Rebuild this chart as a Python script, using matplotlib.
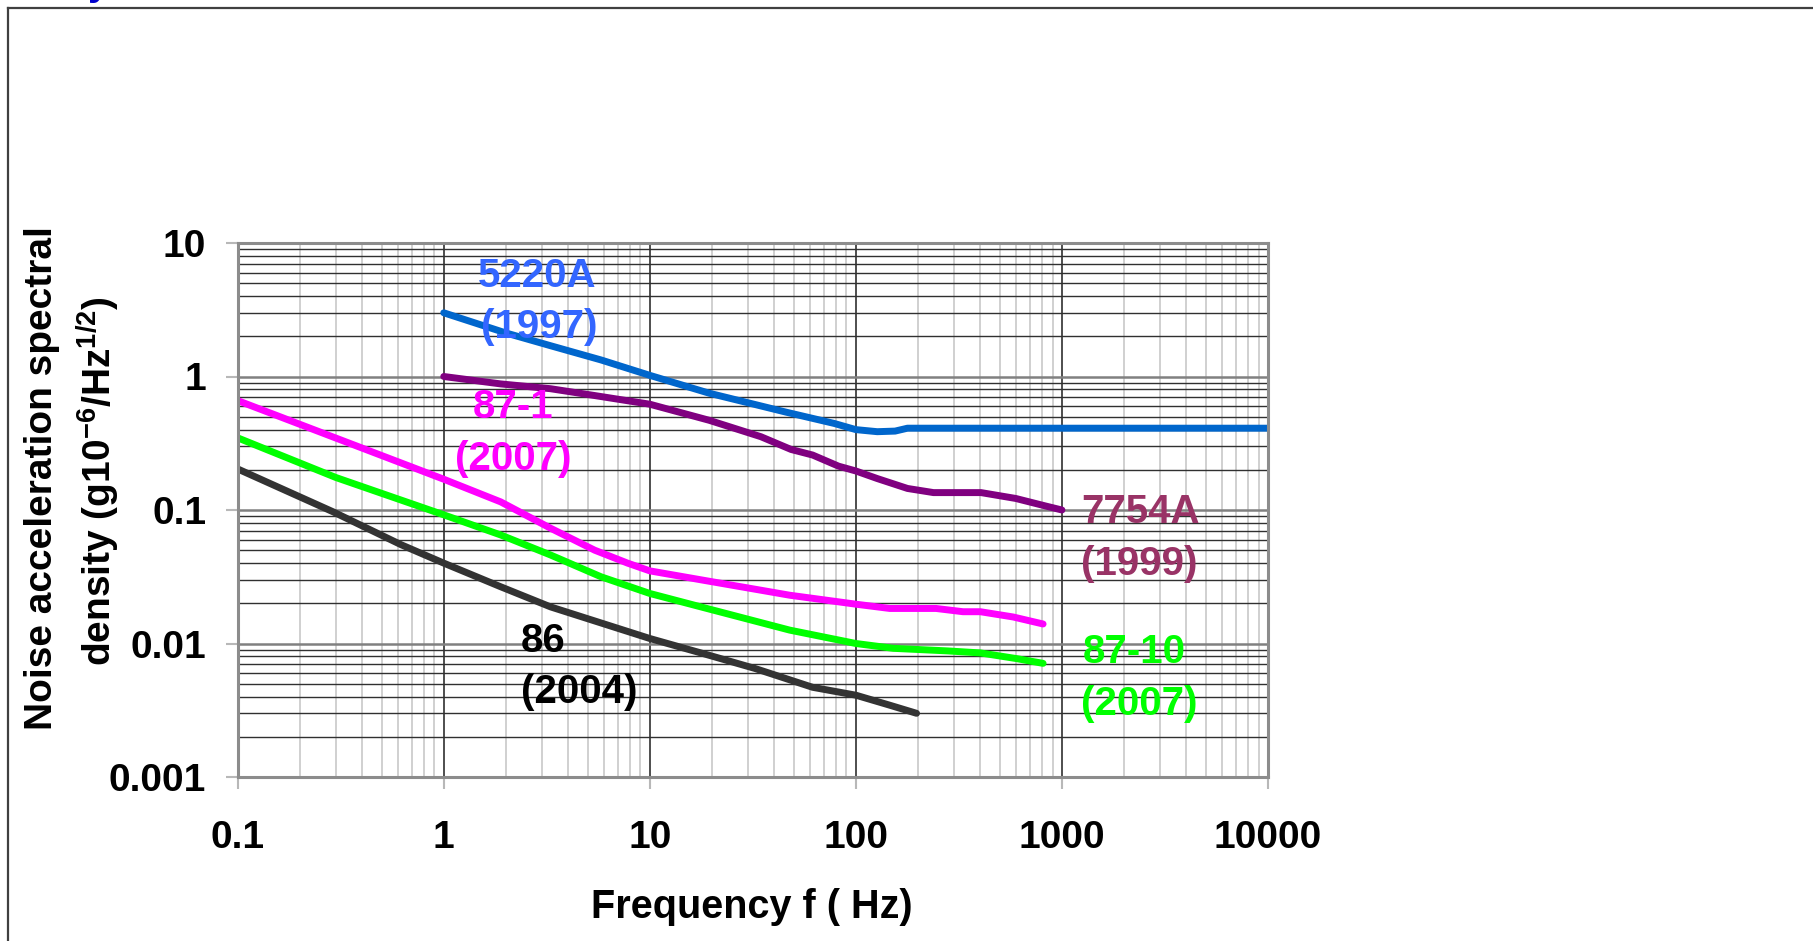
import numpy as np
import matplotlib
matplotlib.use('Agg')
import matplotlib.pyplot as plt
from matplotlib.ticker import LogLocator, NullFormatter
from matplotlib.lines import Line2D

plt.rcParams['font.family'] = ['Liberation Sans', 'DejaVu Sans']
plt.rcParams['font.weight'] = 'bold'
plt.rcParams['mathtext.default'] = 'regular'

# curves (frequency in Hz, noise density)
f_5220a = [1, 2, 3.3, 5.8, 10, 19.4, 46, 78.5, 100, 127, 155, 178, 1000, 10000]
n_5220a = [3.0, 2.12, 1.7, 1.33, 1.02, 0.75, 0.54, 0.445, 0.40, 0.386, 0.39, 0.41, 0.41, 0.41]

f_7754a = [1, 1.89, 3.3, 5.4, 10, 19.4, 34.6, 48.5, 61.7, 82.4, 100, 127, 178, 238, 405, 597, 836, 1000]
n_7754a = [1.0, 0.88, 0.81, 0.72, 0.62, 0.47, 0.354, 0.284, 0.258, 0.213, 0.196, 0.172,
           0.145, 0.135, 0.135, 0.122, 0.107, 0.10]

f_87_1 = [0.1, 1, 1.89, 3.3, 5.4, 7.8, 10, 17.7, 47.7, 100, 146, 245, 331, 402, 580, 810]
n_87_1 = [0.66, 0.17, 0.115, 0.073, 0.05, 0.04, 0.035, 0.030, 0.023, 0.0197, 0.0183, 0.0183,
          0.0173, 0.0173, 0.0158, 0.014]

f_87_10 = [0.1, 0.3, 1, 1.89, 3.3, 5.8, 10, 17.7, 47.7, 100, 152, 279, 402, 604, 810]
n_87_10 = [0.347, 0.175, 0.092, 0.065, 0.046, 0.0316, 0.0237, 0.0188, 0.0126, 0.010, 0.0092,
           0.0088, 0.0085, 0.0077, 0.0071]

f_86 = [0.1, 0.29, 0.62, 1, 1.89, 3.3, 10, 17.7, 32.4, 61.6, 100, 146, 197]
n_86 = [0.203, 0.097, 0.055, 0.040, 0.0266, 0.0188, 0.0109, 0.0085, 0.0065, 0.0047, 0.0041,
        0.00345, 0.0030]

x_ticks = [0.1, 1, 10, 100, 1000, 10000]
x_ticklabels = ['0.1', '1', '10', '100', '1000', '10000']
y_ticks = [0.001, 0.01, 0.1, 1, 10]
y_ticklabels = ['0.001', '0.01', '0.1', '1', '10']

W, H = 1813, 941
fig = plt.figure(figsize=(W / 100, H / 100), dpi=100)
ax = fig.add_axes([237.7 / W, 1 - 777 / H, (1268 - 237.7) / W, (777 - 243) / H])

lw = 5.0
ax.plot(f_5220a, n_5220a, color='#0066CC', lw=lw, solid_capstyle='round', solid_joinstyle='round')
ax.plot(f_7754a, n_7754a, color='#800080', lw=lw, solid_capstyle='round', solid_joinstyle='round')
ax.plot(f_87_1, n_87_1, color='#FF00FF', lw=lw, solid_capstyle='round', solid_joinstyle='round')
ax.plot(f_87_10, n_87_10, color='#00FF00', lw=lw, solid_capstyle='round', solid_joinstyle='round')
ax.plot(f_86, n_86, color='#333333', lw=lw, solid_capstyle='round', solid_joinstyle='round')

ax.set_xscale('log')
ax.set_yscale('log')
ax.set_xlim(0.1, 10000)
ax.set_ylim(0.001, 10)

ax.xaxis.set_minor_locator(LogLocator(base=10, subs=np.arange(2, 10), numticks=20))
ax.yaxis.set_minor_locator(LogLocator(base=10, subs=np.arange(2, 10), numticks=20))
ax.set_xticks(x_ticks)
ax.set_xticklabels(x_ticklabels)
ax.set_yticks(y_ticks)
ax.set_yticklabels(y_ticklabels)
ax.xaxis.set_minor_formatter(NullFormatter())
ax.yaxis.set_minor_formatter(NullFormatter())

ax.tick_params(axis='x', which='major', labelsize=28, length=8.6, width=1.5, color='#b8b8b8', pad=22)
ax.tick_params(axis='y', which='major', labelsize=28, length=8.6, width=1.5, color='#b8b8b8', pad=14)
ax.tick_params(which='minor', length=0)

# excel-like grid
ax.set_axisbelow(True)
ax.grid(which='major', axis='x', color='#303030', lw=1.2)
ax.grid(which='minor', axis='x', color='#c8c8c8', lw=1.2)
ax.grid(which='major', axis='y', color='#808080', lw=1.8)
ax.grid(which='minor', axis='y', color='#303030', lw=1.0)

for s in ax.spines.values():
    s.set_color('#8c8c8c')
    s.set_linewidth(2.2)

# series labels
labels = [('5220A', '#3366FF', 478, 287), ('(1997)', '#3366FF', 481, 338),
          ('87-1', '#FF00FF', 473, 418), ('(2007)', '#FF00FF', 455, 470),
          ('7754A', '#993366', 1081, 523), ('(1999)', '#993366', 1081, 575),
          ('87-10', '#00FF00', 1083, 663), ('(2007)', '#00FF00', 1081, 715),
          ('86', '#000000', 521, 652), ('(2004)', '#000000', 521, 703)]
for txt, col, px, py in labels:
    fig.text(px / W, 1 - py / H, txt, color=col, fontsize=29, fontweight='bold',
             ha='left', va='baseline')

fig.text(752 / W, 1 - 918 / H, 'Frequency f ( Hz)', fontsize=28.5, fontweight='bold',
         ha='center', va='baseline')
fig.text(52 / W, 1 - 478 / H, 'Noise acceleration spectral', fontsize=28, fontweight='bold',
         rotation=90, rotation_mode='anchor', ha='center', va='baseline')
fig.text(112 / W, 1 - 481 / H, 'density (g10$^{-6}$/Hz$^{1/2}$)', fontsize=28, fontweight='bold',
         rotation=90, rotation_mode='anchor', ha='center', va='baseline')

# slide frame and the cut-off title letter above it
fig.add_artist(Line2D([8 / W, 8 / W], [0, 1 - 8 / H], transform=fig.transFigure, color='#404040', lw=1.6))
fig.add_artist(Line2D([8 / W, 1], [1 - 8 / H, 1 - 8 / H], transform=fig.transFigure, color='#404040', lw=1.6))
fig.text(88 / W, 1 + 5 / H, 'y', color='#0000CC', fontsize=28, fontweight='bold', va='baseline')

fig.savefig('out.png', dpi=100)
